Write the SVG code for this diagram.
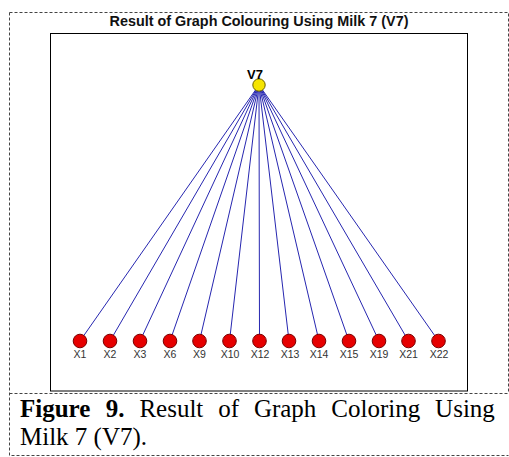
<svg xmlns="http://www.w3.org/2000/svg" width="509" height="457" viewBox="0 0 509 457">
<style>
.dash{fill:none;stroke:#444;stroke-width:1;stroke-dasharray:3 2}
.box{fill:#fff;stroke:#000;stroke-width:1}
.edge{stroke:#2626b0;stroke-width:1}
.xn{fill:#e60000;stroke:#7a0000;stroke-width:1}
.xl{font-family:"Liberation Sans",Arial,sans-serif;font-size:10.5px;fill:#333;text-anchor:middle}
.title{font-family:"Liberation Sans",Arial,sans-serif;font-size:14.4px;font-weight:bold;fill:#111;text-anchor:middle}
.cap{font-family:"Liberation Serif","Times New Roman",serif;font-size:25px;fill:#000}
</style>
<rect width="509" height="457" fill="#fff"/>
<g id="frame">
<path class="dash" d="M9.5 12.5H508.5V393.5M9.5 12.5V455.5H508.5M9.5 393.5H508.5"/>
<rect class="box" x="50.5" y="33.5" width="417" height="357.5"/>
<text class="title" x="259" y="25.5">Result of Graph Colouring Using Milk 7 (V7)</text>
</g>
<g id="connectors">
<line class="edge" x1="259" y1="85" x2="80" y2="341"/>
<line class="edge" x1="259" y1="85" x2="110" y2="341"/>
<line class="edge" x1="259" y1="85" x2="140" y2="341"/>
<line class="edge" x1="259" y1="85" x2="170" y2="341"/>
<line class="edge" x1="259" y1="85" x2="199.5" y2="341"/>
<line class="edge" x1="259" y1="85" x2="229.5" y2="341"/>
<line class="edge" x1="259" y1="85" x2="259.5" y2="341"/>
<line class="edge" x1="259" y1="85" x2="289" y2="341"/>
<line class="edge" x1="259" y1="85" x2="319" y2="341"/>
<line class="edge" x1="259" y1="85" x2="349" y2="341"/>
<line class="edge" x1="259" y1="85" x2="379" y2="341"/>
<line class="edge" x1="259" y1="85" x2="408.5" y2="341"/>
<line class="edge" x1="259" y1="85" x2="438.5" y2="341"/>
</g>
<g id="V7">
<circle cx="259" cy="85" r="6.2" fill="#f5e400" stroke="#6a6000" stroke-width="1"/>
<text x="255" y="78.5" font-family="'Liberation Sans',Arial,sans-serif" font-size="13" font-weight="bold" text-anchor="middle" fill="#000">V7</text>
</g>
<g id="X1"><circle class="xn" cx="80" cy="341" r="6.8"/><text class="xl" x="80" y="358">X1</text></g>
<g id="X2"><circle class="xn" cx="110" cy="341" r="6.8"/><text class="xl" x="110" y="358">X2</text></g>
<g id="X3"><circle class="xn" cx="140" cy="341" r="6.8"/><text class="xl" x="140" y="358">X3</text></g>
<g id="X6"><circle class="xn" cx="170" cy="341" r="6.8"/><text class="xl" x="170" y="358">X6</text></g>
<g id="X9"><circle class="xn" cx="199.5" cy="341" r="6.8"/><text class="xl" x="199.5" y="358">X9</text></g>
<g id="X10"><circle class="xn" cx="229.5" cy="341" r="6.8"/><text class="xl" x="230" y="358">X10</text></g>
<g id="X12"><circle class="xn" cx="259.5" cy="341" r="6.8"/><text class="xl" x="260" y="358">X12</text></g>
<g id="X13"><circle class="xn" cx="289" cy="341" r="6.8"/><text class="xl" x="290" y="358">X13</text></g>
<g id="X14"><circle class="xn" cx="319" cy="341" r="6.8"/><text class="xl" x="319" y="358">X14</text></g>
<g id="X15"><circle class="xn" cx="349" cy="341" r="6.8"/><text class="xl" x="349" y="358">X15</text></g>
<g id="X19"><circle class="xn" cx="379" cy="341" r="6.8"/><text class="xl" x="379" y="358">X19</text></g>
<g id="X21"><circle class="xn" cx="408.5" cy="341" r="6.8"/><text class="xl" x="408.5" y="358">X21</text></g>
<g id="X22"><circle class="xn" cx="438.5" cy="341" r="6.8"/><text class="xl" x="439" y="358">X22</text></g>
<g id="caption">
<text class="cap" y="417"><tspan x="20" font-weight="bold">Figure</tspan><tspan x="105.7" font-weight="bold">9.</tspan><tspan x="139.4">Result</tspan><tspan x="218.2">of</tspan><tspan x="253.9">Graph</tspan><tspan x="331.3">Coloring</tspan><tspan x="435.1">Using</tspan></text>
<text class="cap" x="20" y="445">Milk 7 (V7).</text>
</g>
</svg>
